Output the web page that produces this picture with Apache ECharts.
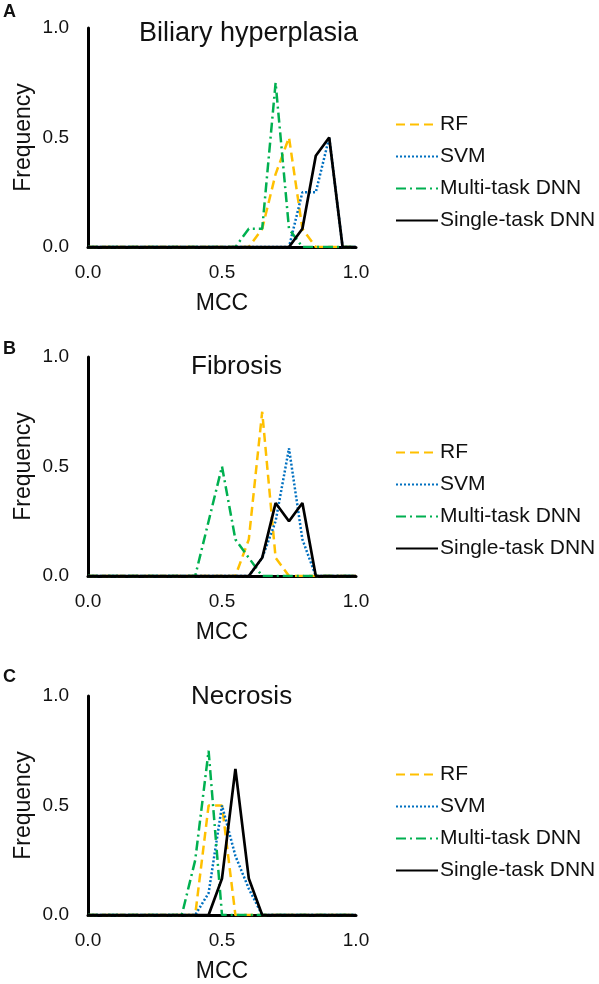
<!DOCTYPE html>
<html>
<head>
<meta charset="utf-8">
<script src="https://cdn.jsdelivr.net/npm/echarts@6/dist/echarts.min.js"></script>
<style>
html,body{margin:0;padding:0;background:#fff;}
#chart{width:599px;height:984px;}
</style>
</head>
<body>
<div id="chart"></div>
<script>
// MCC bin centres (x values)
var mcc = [0.00,0.05,0.10,0.15,0.20,0.25,0.30,0.35,0.40,0.45,0.50,0.55,0.60,0.65,0.70,0.75,0.80,0.85,0.90,0.95,1.00];
var yTicks = ['0.0','0.5','1.0'];
var xTicks = ['0.0','0.5','1.0'];
var seriesNames = ['RF','SVM','Multi-task DNN','Single-task DNN'];
var panelTitles = ['Biliary hyperplasia','Fibrosis','Necrosis'];
var panelLetters = ['A','B','C'];

// Panel A: Biliary hyperplasia
var rfA     = [0,0,0,0,0,0,0,0,0,0,0,0,0,0.083,0.333,0.5,0.083,0,0,0,0];
var svmA    = [0,0,0,0,0,0,0,0,0,0,0,0,0,0,0,0,0.25,0.25,0.5,0,0];
var multiA  = [0,0,0,0,0,0,0,0,0,0,0,0,0.083,0.083,0.75,0.083,0,0,0,0,0];
var singleA = [0,0,0,0,0,0,0,0,0,0,0,0,0,0,0,0,0.083,0.417,0.5,0,0];

// Panel B: Fibrosis
var rfB     = [0,0,0,0,0,0,0,0,0,0,0,0,0.167,0.75,0.083,0,0,0,0,0,0];
var svmB    = [0,0,0,0,0,0,0,0,0,0,0,0,0,0.083,0.25,0.583,0.167,0,0,0,0];
var multiB  = [0,0,0,0,0,0,0,0,0,0.25,0.5,0.167,0.083,0,0,0,0,0,0,0,0];
var singleB = [0,0,0,0,0,0,0,0,0,0,0,0,0,0.083,0.333,0.25,0.333,0,0,0,0];

// Panel C: Necrosis
var rfC     = [0,0,0,0,0,0,0,0,0,0.5,0.5,0,0,0,0,0,0,0,0,0,0];
var svmC    = [0,0,0,0,0,0,0,0,0,0.1,0.5,0.27,0.12,0,0,0,0,0,0,0,0];
var multiC  = [0,0,0,0,0,0,0,0,0.25,0.75,0,0,0,0,0,0,0,0,0,0,0];
var singleC = [0,0,0,0,0,0,0,0,0,0,0.167,0.667,0.167,0,0,0,0,0,0,0,0];

var panels = [
  [rfA, svmA, multiA, singleA],
  [rfB, svmB, multiB, singleB],
  [rfC, svmC, multiC, singleC]
];

var FONT = 'Arial, "Liberation Sans", sans-serif';
var TXT = '#111';
var colors = ['#FFC000','#0070C0','#00B050','#000000'];
var dashes = [[9,5],[2,2],[10,4,2,4],'solid'];
var widths = [2.5,2.5,2.5,2.7];

var gridTops = [28,357,696];
var titleTops = [20,354,684];
var titleLefts = [139,191,191];
var titleSizes = [27,26,26];
var letterTops = [3,340,668];
var legendTops = [114,442,764];

function pairs(arr){ return arr.map(function(v,i){ return [mcc[i], v]; }); }

var option = {
  animation:false,
  backgroundColor:'#fff',
  title:[], grid:[], xAxis:[], yAxis:[], series:[], legend:[]
};

for (var p=0;p<3;p++){
  option.title.push({text:panelLetters[p], left:3, top:letterTops[p], padding:0,
    textStyle:{fontFamily:FONT,fontSize:18,fontWeight:'bold',color:TXT}});
  option.title.push({text:panelTitles[p], left:titleLefts[p], top:titleTops[p], padding:0,
    textStyle:{fontFamily:FONT,fontSize:titleSizes[p],fontWeight:'normal',color:TXT}});
  option.grid.push({left:88, top:gridTops[p], width:268, height:219, containLabel:false});
  option.xAxis.push({
    gridIndex:p, type:'value', min:0, max:1, interval:0.5,
    name:'MCC', nameLocation:'middle', nameGap:45,
    nameTextStyle:{fontFamily:FONT,fontSize:23,color:TXT},
    axisLine:{show:true,lineStyle:{color:'#000',width:3}},
    axisTick:{show:false}, splitLine:{show:false},
    axisLabel:{margin:16,fontFamily:FONT,fontSize:19,color:TXT,
      formatter:function(v){ return xTicks[Math.round(v*2)]; }}
  });
  option.yAxis.push({
    gridIndex:p, type:'value', min:0, max:1, interval:0.5,
    name:'Frequency', nameLocation:'middle', nameGap:53,
    nameTextStyle:{fontFamily:FONT,fontSize:23,color:TXT},
    axisLine:{show:true,lineStyle:{color:'#000',width:3}},
    axisTick:{show:false}, splitLine:{show:false},
    axisLabel:{margin:19,fontFamily:FONT,fontSize:19,color:TXT,
      formatter:function(v){ return yTicks[Math.round(v*2)]; }}
  });
  for (var s=0;s<4;s++){
    option.series.push({
      name:seriesNames[s], type:'line', xAxisIndex:p, yAxisIndex:p,
      data:pairs(panels[p][s]), symbol:'none', showSymbol:false, z:2+s,
      lineStyle:{color:colors[s], width:widths[s], type:dashes[s], cap:'butt'},
      itemStyle:{color:colors[s]}
    });
  }
  option.legend.push({
    orient:'vertical', left:395, top:legendTops[p], padding:0,
    itemWidth:42, itemHeight:14, itemGap:11, selectedMode:false,
    itemStyle:{color:'rgba(0,0,0,0)', borderWidth:0, opacity:0},
    data:seriesNames,
    textStyle:{fontFamily:FONT,fontSize:21,color:TXT,padding:[0,0,0,-3]}
  });
}

var chart = echarts.init(document.getElementById('chart'), null, {renderer:'canvas'});
chart.setOption(option);
</script>
</body>
</html>
